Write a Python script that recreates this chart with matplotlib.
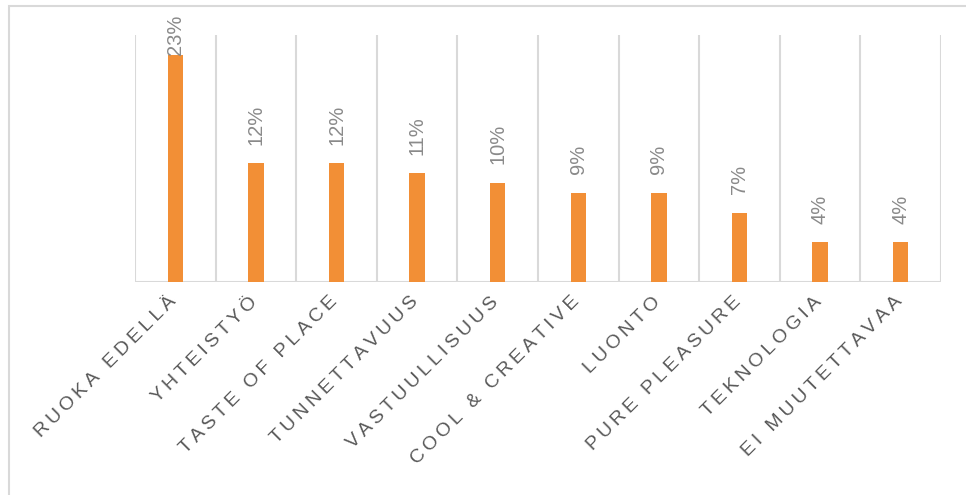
import matplotlib
matplotlib.use("Agg")
import matplotlib.pyplot as plt
from matplotlib.patches import Rectangle

categories = ["RUOKA EDELLÄ", "YHTEISTYÖ", "TASTE OF PLACE", "TUNNETTAVUUS",
              "VASTUULLISUUS", "COOL & CREATIVE", "LUONTO", "PURE PLEASURE",
              "TEKNOLOGIA", "EI MUUTETTAVAA"]
values = [23, 12, 12, 11, 10, 9, 9, 7, 4, 4]
value_labels = ["23%", "12%", "12%", "11%", "10%", "9%", "9%", "7%", "4%", "4%"]

BAR_COLOR = "#F28F36"
GRID_COLOR = "#D9D9D9"
VALUE_COLOR = "#8A8A8A"
LABEL_COLOR = "#595959"

plt.rcParams["font.family"] = ["Liberation Sans", "DejaVu Sans"]

W, H = 966, 495
fig = plt.figure(figsize=(W / 100, H / 100), dpi=100)
ax = fig.add_axes([135 / W, 1 - 282 / H, (941 - 135) / W, (282 - 35) / H])

n = len(categories)
xs = [i + 0.5 for i in range(n)]
ax.bar(xs, values, width=0.19, color=BAR_COLOR, zorder=3)

ax.set_xlim(0, n)
ax.set_ylim(0, 25)
for i in range(n + 1):
    ax.axvline(i, color=GRID_COLOR, lw=1.5, zorder=1)
ax.axhline(0, color=GRID_COLOR, lw=1.5, zorder=2)

for s in ax.spines.values():
    s.set_visible(False)
ax.set_yticks([])
ax.set_xticks([])

# value labels above each bar, kept inside the chart frame at the top
value_texts = []
for x, v, lab in zip(xs, values, value_labels):
    t = ax.annotate(lab, (x, v), xytext=(0, 13.5), textcoords="offset points",
                    rotation=90, ha="center", va="bottom", fontsize=14.5,
                    color=VALUE_COLOR, zorder=4)
    value_texts.append(t)

fig.canvas.draw()
renderer = fig.canvas.get_renderer()
top_limit_px = H - 15
for t in value_texts:
    bb = t.get_window_extent(renderer)
    if bb.y1 > top_limit_px:
        shift_pt = (bb.y1 - top_limit_px) * 72 / fig.dpi
        ox, oy = t.xyann
        t.xyann = (ox, oy - shift_pt)

for x, cat in zip(xs, categories):
    spaced = "\u2009".join(cat)
    ax.annotate(spaced, (x, 0), xytext=(-1, -12.5), textcoords="offset points",
                rotation=45, rotation_mode="anchor", ha="right", va="center",
                fontsize=14, color=LABEL_COLOR)

# outer frame of the chart area
fig.patches.append(Rectangle((9 / W, -0.01), 2.0, 1 - 6 / H + 0.01,
                             transform=fig.transFigure, fill=False,
                             edgecolor=GRID_COLOR, lw=1.5))

fig.savefig("out.png", dpi=100)
